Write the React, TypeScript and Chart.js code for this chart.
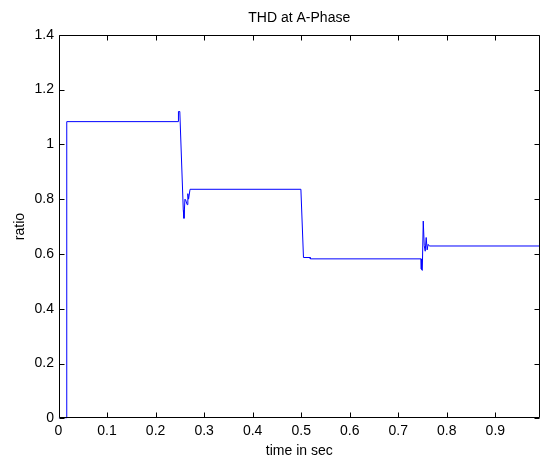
import React, { useEffect, useRef } from "react";
import { Chart, registerables } from "chart.js";

Chart.register(...registerables);

const TITLE = "THD at A-Phase";
const X_LABEL = "time in sec";
const Y_LABEL = "ratio";

const timeSec = [
  0, 0.017, 0.017, 0.247, 0.2471, 0.2499, 0.2571, 0.2585, 0.2605, 0.262, 0.265, 0.2665, 0.268, 0.2705, 0.271,
  0.4994, 0.5047, 0.5186, 0.5188,
  0.747, 0.7475, 0.7495, 0.7515, 0.7535, 0.7555, 0.7575, 0.7595, 0.7615, 0.764, 0.992,
];
const ratio = [
  0, 0, 1.083, 1.083, 1.12, 1.12, 0.76, 0.73, 0.8, 0.797, 0.78, 0.82, 0.8, 0.83, 0.836,
  0.836, 0.587, 0.587, 0.582,
  0.582, 0.545, 0.54, 0.72, 0.63, 0.61, 0.66, 0.615, 0.635, 0.629, 0.629,
];

const X_TICKS = [0, 0.1, 0.2, 0.3, 0.4, 0.5, 0.6, 0.7, 0.8, 0.9];
const Y_TICKS = [0, 0.2, 0.4, 0.6, 0.8, 1, 1.2, 1.4];
const X_MIN = 0;
const X_MAX = 0.992;
const Y_MIN = 0;
const Y_MAX = 1.4;

const FONT = "'Liberation Sans', Arial, sans-serif";

const boxPlugin = {
  id: "matlabBox",
  afterDraw(chart: any) {
    const { ctx, chartArea } = chart;
    const xs = chart.scales.x;
    const ys = chart.scales.y;
    const L = Math.round(chartArea.left) + 0.5;
    const R = Math.round(chartArea.right) - 0.5;
    const T = Math.round(chartArea.top) + 0.5;
    const B = Math.round(chartArea.bottom) - 0.5;
    const len = 5;
    ctx.save();
    ctx.strokeStyle = "#000";
    ctx.lineWidth = 1;
    ctx.beginPath();
    ctx.rect(L, T, R - L, B - T);
    for (const v of X_TICKS) {
      const px = Math.round(xs.getPixelForValue(v)) + 0.5;
      ctx.moveTo(px, B);
      ctx.lineTo(px, B - len);
      ctx.moveTo(px, T);
      ctx.lineTo(px, T + len);
    }
    for (const v of Y_TICKS) {
      const py = Math.round(ys.getPixelForValue(v)) + 0.5;
      ctx.moveTo(L, py);
      ctx.lineTo(L + len, py);
      ctx.moveTo(R, py);
      ctx.lineTo(R - len, py);
    }
    ctx.stroke();
    ctx.restore();
  },
};

export default function App() {
  const ref = useRef<HTMLCanvasElement | null>(null);
  useEffect(() => {
    if (!ref.current) return;
    const points = timeSec.map((t, i) => ({ x: t, y: ratio[i] }));
    const chart = new Chart(ref.current, {
      type: "line",
      data: {
        datasets: [
          {
            data: points,
            borderColor: "#0000ff",
            borderWidth: 1,
            pointRadius: 0,
            tension: 0,
            fill: false,
          },
        ],
      },
      options: {
        animation: false,
        responsive: false,
        events: [],
        layout: { padding: { left: 0, right: 1, top: 0, bottom: 0 } },
        plugins: {
          legend: { display: false },
          tooltip: { enabled: false },
          title: {
            display: true,
            fullSize: false,
            text: TITLE,
            color: "#000",
            font: { family: FONT, size: 14, weight: "normal" },
            padding: { top: 10, bottom: 8 },
          },
        },
        scales: {
          x: {
            type: "linear",
            min: X_MIN,
            max: X_MAX,
            grid: { display: false, drawTicks: false },
            border: { display: false },
            afterFit: (s: any) => {
              s.height = 42.7;
            },
            afterBuildTicks: (s: any) => {
              s.ticks = X_TICKS.map((v) => ({ value: v }));
            },
            ticks: {
              color: "#000",
              font: { family: FONT, size: 14 },
              padding: 4,
              maxRotation: 0,
              autoSkip: false,
              callback: (v: any) => String(Math.round(Number(v) * 10) / 10),
            },
            title: {
              display: true,
              text: X_LABEL,
              color: "#000",
              font: { family: FONT, size: 14 },
              padding: { top: 0, bottom: 1 },
            },
          },
          y: {
            type: "linear",
            min: Y_MIN,
            max: Y_MAX,
            grid: { display: false, drawTicks: false },
            border: { display: false },
            afterFit: (s: any) => {
              s.width = 58.5;
            },
            afterBuildTicks: (s: any) => {
              s.ticks = Y_TICKS.map((v) => ({ value: v }));
            },
            ticks: {
              color: "#000",
              font: { family: FONT, size: 14 },
              padding: 4.5,
              autoSkip: false,
              callback: (v: any) => String(Math.round(Number(v) * 10) / 10),
            },
            title: {
              display: true,
              text: Y_LABEL,
              color: "#000",
              font: { family: FONT, size: 14 },
              padding: { top: 11.6, bottom: 0 },
            },
          },
        },
      },
      plugins: [boxPlugin],
    });
    return () => chart.destroy();
  }, []);
  return (
    <div style={{ position: "absolute", left: 0, top: 0, width: 541, height: 461, background: "#fff" }}>
      <canvas ref={ref} width={541} height={461} style={{ width: 541, height: 461, display: "block" }} />
    </div>
  );
}
